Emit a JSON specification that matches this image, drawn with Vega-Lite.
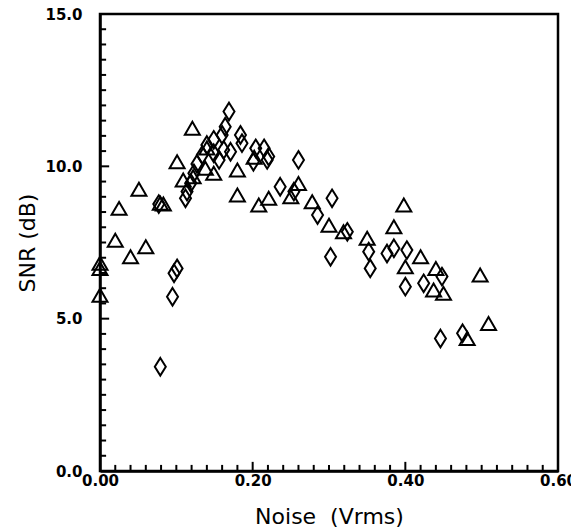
{
  "$schema": "https://vega.github.io/schema/vega-lite/v6.json",
  "autosize": "none",
  "width": 458,
  "height": 457,
  "padding": {"left": 100, "top": 14, "right": 13, "bottom": 61},
  "background": "white",
  "config": {
    "view": {"stroke": "black", "strokeWidth": 2.5},
    "font": "DejaVu Sans",
    "axis": {
      "titleFont": "DejaVu Sans", "titleFontSize": 22, "titleFontWeight": "normal", "titleColor": "black",
      "labelFont": "DejaVu Sans", "labelFontSize": 15, "labelFontWeight": "bold", "labelColor": "black",
      "labelFlush": false, "labelOverlap": false, "labelBound": false,
      "grid": false, "domain": true, "domainColor": "black", "domainWidth": 2.5,
      "ticks": false, "tickSize": 0
    },
    "axisX": {"titlePadding": 18, "labelPadding": 2},
    "axisY": {"titlePadding": 5, "labelPadding": 18}
  },
  "datasets": {
    "triangles": [
      {"noise": 0.000, "snr": 6.82}, {"noise": 0.000, "snr": 6.65}, {"noise": 0.000, "snr": 5.77},
      {"noise": 0.025, "snr": 8.62}, {"noise": 0.020, "snr": 7.57}, {"noise": 0.051, "snr": 9.25},
      {"noise": 0.040, "snr": 7.03}, {"noise": 0.060, "snr": 7.36}, {"noise": 0.079, "snr": 8.79},
      {"noise": 0.083, "snr": 8.76}, {"noise": 0.101, "snr": 10.15}, {"noise": 0.109, "snr": 9.55},
      {"noise": 0.121, "snr": 11.25}, {"noise": 0.122, "snr": 9.66}, {"noise": 0.140, "snr": 10.6},
      {"noise": 0.138, "snr": 9.94}, {"noise": 0.149, "snr": 9.77}, {"noise": 0.180, "snr": 9.88},
      {"noise": 0.180, "snr": 9.06}, {"noise": 0.202, "snr": 10.3}, {"noise": 0.208, "snr": 8.73},
      {"noise": 0.221, "snr": 8.95}, {"noise": 0.260, "snr": 9.44}, {"noise": 0.250, "snr": 9.00},
      {"noise": 0.278, "snr": 8.84}, {"noise": 0.300, "snr": 8.07}, {"noise": 0.319, "snr": 7.85},
      {"noise": 0.350, "snr": 7.64}, {"noise": 0.398, "snr": 8.73}, {"noise": 0.385, "snr": 8.02},
      {"noise": 0.420, "snr": 7.03}, {"noise": 0.400, "snr": 6.70}, {"noise": 0.440, "snr": 6.65},
      {"noise": 0.437, "snr": 5.94}, {"noise": 0.450, "snr": 5.83}, {"noise": 0.498, "snr": 6.43},
      {"noise": 0.509, "snr": 4.84}, {"noise": 0.481, "snr": 4.35}
    ],
    "diamonds": [
      {"noise": 0.097, "snr": 6.49}, {"noise": 0.101, "snr": 6.65}, {"noise": 0.095, "snr": 5.72},
      {"noise": 0.079, "snr": 3.42}, {"noise": 0.077, "snr": 8.76}, {"noise": 0.112, "snr": 8.95},
      {"noise": 0.114, "snr": 9.17}, {"noise": 0.119, "snr": 9.45}, {"noise": 0.123, "snr": 9.77},
      {"noise": 0.127, "snr": 10.08}, {"noise": 0.134, "snr": 10.37}, {"noise": 0.140, "snr": 10.70},
      {"noise": 0.149, "snr": 10.87}, {"noise": 0.160, "snr": 11.03}, {"noise": 0.164, "snr": 11.30},
      {"noise": 0.149, "snr": 10.43}, {"noise": 0.156, "snr": 10.21}, {"noise": 0.162, "snr": 10.54},
      {"noise": 0.171, "snr": 10.48}, {"noise": 0.169, "snr": 11.80}, {"noise": 0.184, "snr": 11.03},
      {"noise": 0.186, "snr": 10.76}, {"noise": 0.204, "snr": 10.59}, {"noise": 0.215, "snr": 10.59},
      {"noise": 0.221, "snr": 10.32}, {"noise": 0.201, "snr": 10.15}, {"noise": 0.219, "snr": 10.21},
      {"noise": 0.236, "snr": 9.33}, {"noise": 0.254, "snr": 9.17}, {"noise": 0.260, "snr": 10.21},
      {"noise": 0.304, "snr": 8.95}, {"noise": 0.285, "snr": 8.40}, {"noise": 0.324, "snr": 7.85},
      {"noise": 0.302, "snr": 7.03}, {"noise": 0.352, "snr": 7.20}, {"noise": 0.354, "snr": 6.65},
      {"noise": 0.376, "snr": 7.14}, {"noise": 0.385, "snr": 7.31}, {"noise": 0.402, "snr": 7.25},
      {"noise": 0.400, "snr": 6.05}, {"noise": 0.424, "snr": 6.16}, {"noise": 0.448, "snr": 6.38},
      {"noise": 0.446, "snr": 4.35}, {"noise": 0.475, "snr": 4.52}
    ],
    "xMinorTicks": [
      {"v": 0.02}, {"v": 0.04}, {"v": 0.06}, {"v": 0.08}, {"v": 0.10}, {"v": 0.12}, {"v": 0.14}, {"v": 0.16}, {"v": 0.18},
      {"v": 0.22}, {"v": 0.24}, {"v": 0.26}, {"v": 0.28}, {"v": 0.30}, {"v": 0.32}, {"v": 0.34}, {"v": 0.36}, {"v": 0.38},
      {"v": 0.42}, {"v": 0.44}, {"v": 0.46}, {"v": 0.48}, {"v": 0.50}, {"v": 0.52}, {"v": 0.54}, {"v": 0.56}, {"v": 0.58}
    ],
    "xMajorTicks": [{"v": 0.2}, {"v": 0.4}],
    "yMinorTicks": [
      {"v": 0.5}, {"v": 1}, {"v": 1.5}, {"v": 2}, {"v": 2.5}, {"v": 3}, {"v": 3.5}, {"v": 4}, {"v": 4.5},
      {"v": 5.5}, {"v": 6}, {"v": 6.5}, {"v": 7}, {"v": 7.5}, {"v": 8}, {"v": 8.5}, {"v": 9}, {"v": 9.5},
      {"v": 10.5}, {"v": 11}, {"v": 11.5}, {"v": 12}, {"v": 12.5}, {"v": 13}, {"v": 13.5}, {"v": 14}, {"v": 14.5}
    ],
    "yMajorTicks": [{"v": 5}, {"v": 10}]
  },
  "layer": [
    {
      "data": {"name": "xMinorTicks"},
      "mark": {"type": "rule", "color": "black", "strokeWidth": 2},
      "encoding": {
        "x": {"field": "v", "type": "quantitative", "scale": {"domain": [0, 0.6], "nice": false, "zero": false},
              "axis": {"title": "Noise\u00a0\u00a0(Vrms)", "values": [0, 0.2, 0.4, 0.6], "format": ".2f"}},
        "y": {"datum": 0, "type": "quantitative", "scale": {"domain": [0, 15], "nice": false, "zero": false},
              "axis": {"title": "SNR (dB)", "values": [0, 5, 10, 15], "format": ".1f"}},
        "y2": {"datum": 0.2}
      }
    },
    {
      "data": {"name": "xMajorTicks"},
      "mark": {"type": "rule", "color": "black", "strokeWidth": 2},
      "encoding": {
        "x": {"field": "v", "type": "quantitative",
              "axis": {"title": "Noise\u00a0\u00a0(Vrms)", "values": [0, 0.2, 0.4, 0.6], "format": ".2f"}},
        "y": {"datum": 0, "type": "quantitative",
              "axis": {"title": "SNR (dB)", "values": [0, 5, 10, 15], "format": ".1f"}},
        "y2": {"datum": 0.3}
      }
    },
    {
      "data": {"name": "yMinorTicks"},
      "mark": {"type": "rule", "color": "black", "strokeWidth": 2},
      "encoding": {
        "y": {"field": "v", "type": "quantitative",
              "axis": {"title": "SNR (dB)", "values": [0, 5, 10, 15], "format": ".1f"}},
        "x": {"datum": 0, "type": "quantitative",
              "axis": {"title": "Noise\u00a0\u00a0(Vrms)", "values": [0, 0.2, 0.4, 0.6], "format": ".2f"}},
        "x2": {"datum": 0.008}
      }
    },
    {
      "data": {"name": "yMajorTicks"},
      "mark": {"type": "rule", "color": "black", "strokeWidth": 2},
      "encoding": {
        "y": {"field": "v", "type": "quantitative",
              "axis": {"title": "SNR (dB)", "values": [0, 5, 10, 15], "format": ".1f"}},
        "x": {"datum": 0, "type": "quantitative",
              "axis": {"title": "Noise\u00a0\u00a0(Vrms)", "values": [0, 0.2, 0.4, 0.6], "format": ".2f"}},
        "x2": {"datum": 0.012}
      }
    },
    {
      "data": {"name": "triangles"},
      "mark": {"type": "point", "shape": "triangle-up", "size": 225, "filled": false, "stroke": "black", "strokeWidth": 2, "opacity": 1},
      "encoding": {
        "x": {"field": "noise", "type": "quantitative",
              "axis": {"title": "Noise\u00a0\u00a0(Vrms)", "values": [0, 0.2, 0.4, 0.6], "format": ".2f"}},
        "y": {"field": "snr", "type": "quantitative",
              "axis": {"title": "SNR (dB)", "values": [0, 5, 10, 15], "format": ".1f"}}
      }
    },
    {
      "data": {"name": "diamonds"},
      "mark": {"type": "point", "shape": "M0,-1.6L1,0L0,1.6L-1,0Z", "size": 121, "filled": false, "stroke": "black", "strokeWidth": 2, "opacity": 1},
      "encoding": {
        "x": {"field": "noise", "type": "quantitative",
              "axis": {"title": "Noise\u00a0\u00a0(Vrms)", "values": [0, 0.2, 0.4, 0.6], "format": ".2f"}},
        "y": {"field": "snr", "type": "quantitative",
              "axis": {"title": "SNR (dB)", "values": [0, 5, 10, 15], "format": ".1f"}}
      }
    }
  ]
}
